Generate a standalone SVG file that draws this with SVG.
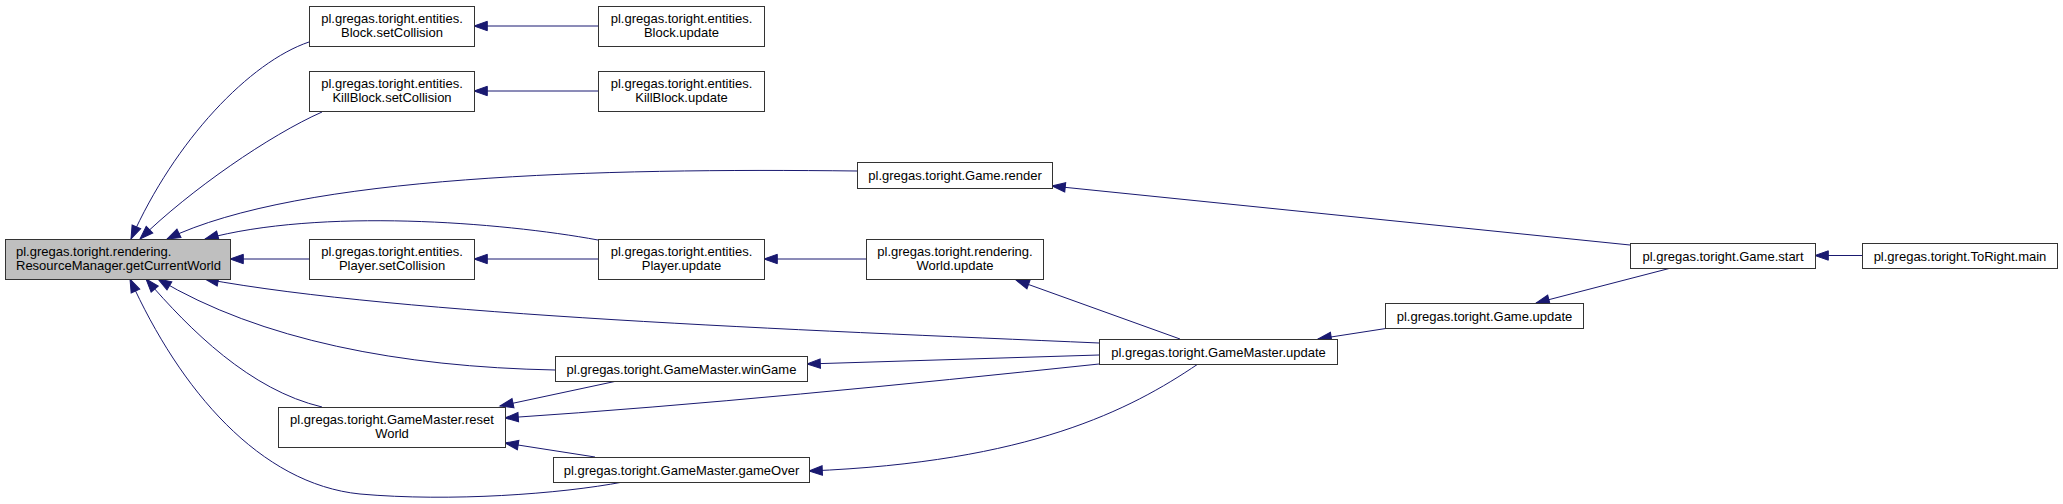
<svg xmlns="http://www.w3.org/2000/svg" width="2063" height="504" viewBox="0 0 2063 504">
<style>
.node rect{fill:#fff;stroke:#333;stroke-width:1}
.node.root rect{fill:#bfbfbf}
.node text{font-family:"Liberation Sans",Arial,sans-serif;font-size:13px;fill:#000;text-anchor:middle}
.node.root text{text-anchor:start}
.edges path{fill:none;stroke:#191970;stroke-width:1;marker-end:url(#arr)}
</style>
<defs>
<marker id="arr" markerUnits="userSpaceOnUse" markerWidth="14" markerHeight="10" refX="13.3" refY="4.7" orient="auto" overflow="visible">
<path d="M0,0 L13.3,4.7 L0,9.4 z" fill="#191970" stroke="#191970" stroke-width="1"/>
</marker>
</defs>
<rect width="2063" height="504" fill="#fff"/>
<g id="edges" class="edges">
<path d="M309,42 C250,62 175,140 131,239"/>
<path d="M322,112 C270,135 190,190 140,239"/>
<path d="M857,171 C600,168 300,175 167,239"/>
<path d="M598,240 C500,222 320,208 205,239"/>
<path d="M309,259 L230,259"/>
<path d="M598,26 L474,26"/>
<path d="M598,91 L474,91"/>
<path d="M598,259 L474,259"/>
<path d="M866,259 L764,259"/>
<path d="M1630,245 L1052,186"/>
<path d="M1862,255.5 L1815,255.5"/>
<path d="M1671,268 L1536,303"/>
<path d="M1389,328 L1318,339"/>
<path d="M1180,339 L1016,280"/>
<path d="M1099,343 C800,330 400,315 205,279"/>
<path d="M1099,355 L807,364"/>
<path d="M1099,364 C900,385 700,405 505,418"/>
<path d="M1198,364 C1130,410 1030,462 809,471"/>
<path d="M555,370 C400,367 260,340 158,279"/>
<path d="M623,482 C560,494 450,502 360,494 C260,484 180,390 130,279"/>
<path d="M322,407 C250,390 190,330 146,279"/>
<path d="M617,381 L500,406"/>
<path d="M595,457 L505,443"/>
</g>
<g id="n_root" class="node root"><rect x="5.5" y="239.5" width="225" height="40"/><text x="16" y="255.5">pl.gregas.toright.rendering.</text><text x="16" y="270">ResourceManager.getCurrentWorld</text></g>
<g id="n_block_setcollision" class="node"><rect x="309.5" y="6.5" width="165" height="40"/><text x="392" y="22.5">pl.gregas.toright.entities.</text><text x="392" y="37">Block.setCollision</text></g>
<g id="n_killblock_setcollision" class="node"><rect x="309.5" y="71.5" width="165" height="40"/><text x="392" y="87.5">pl.gregas.toright.entities.</text><text x="392" y="102">KillBlock.setCollision</text></g>
<g id="n_player_setcollision" class="node"><rect x="309.5" y="239.5" width="165" height="40"/><text x="392" y="255.5">pl.gregas.toright.entities.</text><text x="392" y="270">Player.setCollision</text></g>
<g id="n_resetworld" class="node"><rect x="278.5" y="407.5" width="227" height="40"/><text x="392" y="423.5">pl.gregas.toright.GameMaster.reset</text><text x="392" y="438">World</text></g>
<g id="n_block_update" class="node"><rect x="598.5" y="6.5" width="166" height="40"/><text x="681.5" y="22.5">pl.gregas.toright.entities.</text><text x="681.5" y="37">Block.update</text></g>
<g id="n_killblock_update" class="node"><rect x="598.5" y="71.5" width="166" height="40"/><text x="681.5" y="87.5">pl.gregas.toright.entities.</text><text x="681.5" y="102">KillBlock.update</text></g>
<g id="n_player_update" class="node"><rect x="598.5" y="239.5" width="166" height="40"/><text x="681.5" y="255.5">pl.gregas.toright.entities.</text><text x="681.5" y="270">Player.update</text></g>
<g id="n_game_render" class="node"><rect x="857.5" y="162.5" width="195" height="26"/><text x="955" y="180">pl.gregas.toright.Game.render</text></g>
<g id="n_world_update" class="node"><rect x="866.5" y="239.5" width="177" height="40"/><text x="955" y="255.5">pl.gregas.toright.rendering.</text><text x="955" y="270">World.update</text></g>
<g id="n_wingame" class="node"><rect x="555.5" y="356.5" width="252" height="25"/><text x="681.5" y="373.5">pl.gregas.toright.GameMaster.winGame</text></g>
<g id="n_gameover" class="node"><rect x="553.5" y="457.5" width="256" height="25"/><text x="681.5" y="474.5">pl.gregas.toright.GameMaster.gameOver</text></g>
<g id="n_gm_update" class="node"><rect x="1099.5" y="339.5" width="238" height="25"/><text x="1218.5" y="356.5">pl.gregas.toright.GameMaster.update</text></g>
<g id="n_game_update" class="node"><rect x="1385.5" y="303.5" width="198" height="25"/><text x="1484.5" y="320.5">pl.gregas.toright.Game.update</text></g>
<g id="n_game_start" class="node"><rect x="1630.5" y="243.5" width="185" height="25"/><text x="1723" y="260.5">pl.gregas.toright.Game.start</text></g>
<g id="n_toright_main" class="node"><rect x="1862.5" y="243.5" width="195" height="25"/><text x="1960" y="260.5">pl.gregas.toright.ToRight.main</text></g>
</svg>
